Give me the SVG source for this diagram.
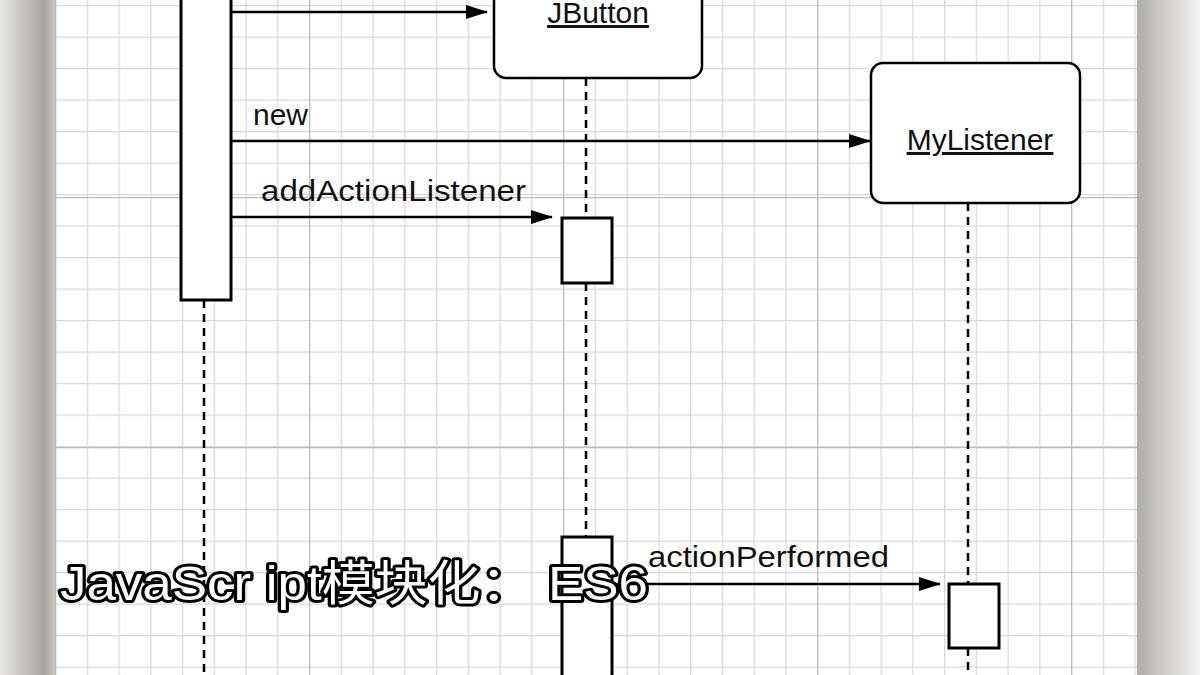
<svg xmlns="http://www.w3.org/2000/svg" width="1200" height="675" viewBox="0 0 1200 675">
<defs>
<pattern id="minor" width="31.75" height="31.5" patternUnits="userSpaceOnUse" x="55" y="5">
<path d="M0 0V31.5M0 0H31.75" fill="none" stroke="#d8d8d8" stroke-width="2.5"/>
</pattern>
<pattern id="major" width="254" height="250" patternUnits="userSpaceOnUse" x="55" y="-53">
<path d="M0 0V250M0 0H254" fill="none" stroke="#bdbdbd" stroke-width="2.5"/>
</pattern>
<linearGradient id="ls" x1="0" x2="1"><stop offset="0" stop-color="#e6e6e6"/><stop offset="0.8" stop-color="#a8a4a0"/><stop offset="1" stop-color="#c8c6c4"/></linearGradient>
<linearGradient id="rs" x1="0" x2="1"><stop offset="0" stop-color="#b0aeac"/><stop offset="1" stop-color="#f2f2f2"/></linearGradient>
<marker id="ah" markerWidth="22" markerHeight="14" refX="21" refY="7" orient="auto" markerUnits="userSpaceOnUse"><path d="M0 0L22 7L0 14Z" fill="#000"/></marker>
</defs>
<style>
.box{fill:#fff;stroke:#000;stroke-width:2.5}
.act{fill:#fff;stroke:#000;stroke-width:3}
.life{stroke:#000;stroke-width:2.5;stroke-dasharray:8 6;fill:none}
.msg{stroke:#000;stroke-width:2.5;fill:none;marker-end:url(#ah)}
.lbl{font-family:"Liberation Sans",Arial,sans-serif;font-size:30px;fill:#111}
.title{font-family:"Liberation Sans","Noto Sans CJK SC",sans-serif;font-size:48px;fill:#fff;stroke:#000;stroke-width:6;paint-order:stroke;stroke-linejoin:round}
</style>
<rect width="1200" height="675" fill="#fff"/>
<rect x="0" y="0" width="55" height="675" fill="url(#ls)"/>
<rect x="1137" y="0" width="63" height="675" fill="url(#rs)"/>
<rect x="55" y="0" width="1082" height="675" fill="url(#minor)"/>
<rect x="55" y="0" width="1082" height="675" fill="url(#major)"/>
<g id="connectors">
<line class="life" x1="204" y1="300" x2="204" y2="675"/>
<line class="life" x1="586" y1="78" x2="586" y2="218"/>
<line class="life" x1="586" y1="283" x2="586" y2="537"/>
<line class="life" x1="968" y1="203" x2="968" y2="584"/>
<line class="life" x1="968" y1="648" x2="968" y2="675"/>
<line class="msg" x1="232" y1="12" x2="487" y2="12"/>
<line class="msg" x1="232" y1="141" x2="870" y2="141"/>
<line class="msg" x1="232" y1="217" x2="552" y2="217"/>
<line class="msg" x1="612" y1="584" x2="940" y2="584"/>
<text class="lbl" x="253" y="125">new</text>
<text class="lbl" x="261" y="201" textLength="265" lengthAdjust="spacingAndGlyphs">addActionListener</text>
<text class="lbl" x="648" y="567" textLength="241" lengthAdjust="spacingAndGlyphs">actionPerformed</text>
</g>
<g id="caller"><rect class="act" x="181" y="-10" width="50" height="310"/></g>
<g id="jbutton"><rect class="box" x="494" y="-20" width="208" height="98" rx="12"/>
<text class="lbl" x="598" y="23" text-anchor="middle" text-decoration="underline">JButton</text></g>
<g id="mylistener"><rect class="box" x="871" y="63" width="209" height="140" rx="12"/>
<text class="lbl" x="980" y="150" text-anchor="middle" text-decoration="underline">MyListener</text></g>
<g id="jbutton-act1"><rect class="act" x="562" y="218" width="50" height="65"/></g>
<g id="jbutton-act2"><rect class="act" x="562" y="537" width="50" height="150"/></g>
<g id="mylistener-act"><rect class="act" x="949" y="584" width="50" height="64"/></g>
<g id="title"><text class="title" x="60" y="600" textLength="588" lengthAdjust="spacingAndGlyphs">JavaScr ipt模块化： ES6</text></g>
</svg>
